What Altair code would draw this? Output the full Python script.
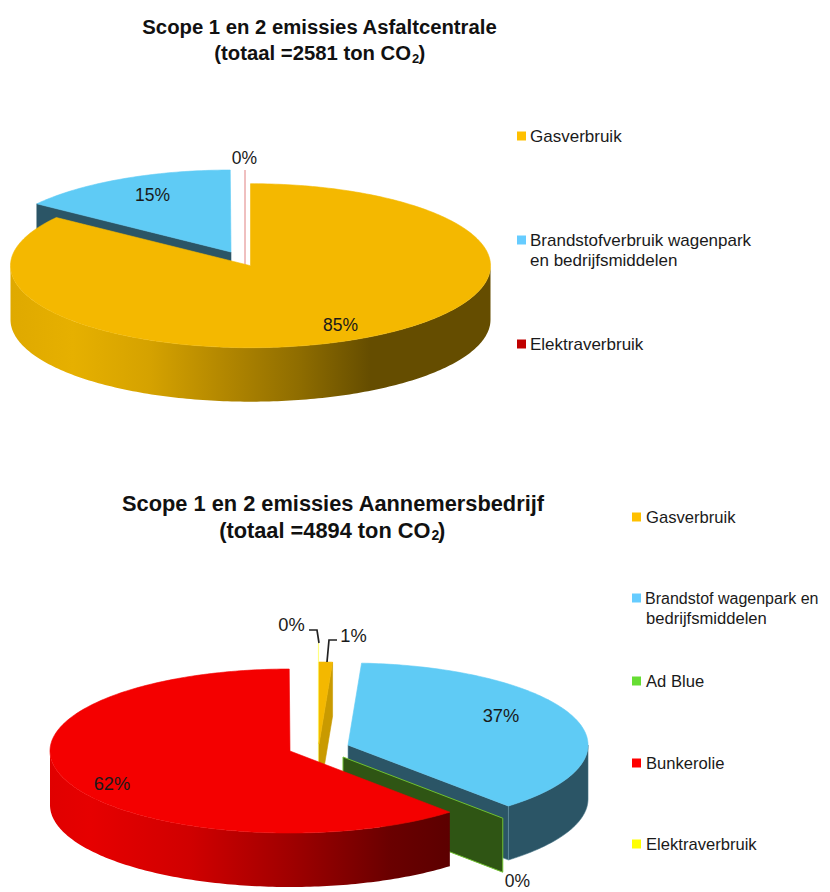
import numpy as np
import pandas as pd
import altair as alt

# ---- data (percent shares, clockwise from 12 o'clock)
top_labels = ["Gasverbruik", "Brandstofverbruik wagenpark", "en bedrijfsmiddelen", "Elektraverbruik"]
top_values = [85.0, 14.95, 0.05]
top_pct = ["85%", "15%", "0%"]

bot_labels = ["Gasverbruik", "Brandstof wagenpark en", "bedrijfsmiddelen", "Ad Blue", "Bunkerolie", "Elektraverbruik"]
bot_values = [0.9, 37.45, 0.05, 61.55, 0.05]
bot_pct = ["1%", "37%", "0%", "62%", "0%"]

RX, RY, DEPTH = 240.0, 82.0, 54.0

xs = alt.Scale(domain=[8, 822], nice=False, zero=False)
ys = alt.Scale(domain=[892, 8], nice=False, zero=False)


def bounds(values):
    c = np.concatenate([[0.0], np.cumsum(values)])
    return c / c[-1] * 360.0


def pt(c, a, dz=0.0):
    r = np.radians(a)
    return (c[0] + RX * np.sin(r), c[1] - RY * np.cos(r) + dz)


def arc(c, a0, a1, dz=0.0):
    n = max(2, int(abs(a1 - a0)) + 2)
    return [pt(c, a, dz) for a in np.linspace(a0, a1, n)]


def poly(points, fill, stroke=None, sw=0.6):
    df = pd.DataFrame(points, columns=["x", "y"])
    df["i"] = range(len(df))
    return alt.Chart(df).mark_line(
        interpolate="linear-closed", fill=fill, stroke=stroke or fill, strokeWidth=sw
    ).encode(
        x=alt.X("x:Q", scale=xs, axis=None),
        y=alt.Y("y:Q", scale=ys, axis=None),
        order=alt.Order("i:Q"),
    )


def sector(c, a0, a1, fill, stroke=None):
    return poly([c] + arc(c, a0, a1), fill, stroke)


def wall(c, a0, a1, fill, stroke=None):
    return poly(arc(c, a0, a1) + arc(c, a1, a0, DEPTH), fill, stroke)


def face(c, a, fill, stroke=None, sw=0.6):
    p = pt(c, a)
    q = pt(c, a, DEPTH)
    return poly([c, p, q, (c[0], c[1] + DEPTH)], fill, stroke, sw)


def path(points, color, sw):
    df = pd.DataFrame(points, columns=["x", "y"])
    df["i"] = range(len(df))
    return alt.Chart(df).mark_line(color=color, strokeWidth=sw).encode(
        x=alt.X("x:Q", scale=xs, axis=None),
        y=alt.Y("y:Q", scale=ys, axis=None),
        order=alt.Order("i:Q"),
    )


def text(s, x, y, size=17.5, bold=False, align="left", color="#1a1a1a"):
    return alt.Chart(pd.DataFrame({"t": [s]})).mark_text(
        font="Liberation Sans", fontSize=size, fontWeight="bold" if bold else "normal",
        align=align, baseline="middle", color=color,
    ).encode(text="t:N", x=alt.value(x - 8), y=alt.value(y - 8))


def swatch(x, y, color):
    return alt.Chart(pd.DataFrame({"t": [0]})).mark_rect(color=color).encode(
        x=alt.value(x - 8), x2=alt.value(x + 1), y=alt.value(y - 12.5), y2=alt.value(y - 3.5)
    )


def grad(stops):
    return alt.LinearGradient(
        gradient="linear", x1=0, x2=1, y1=0, y2=0,
        stops=[alt.GradientStop(offset=o, color=c) for o, c in stops],
    )


GOLD, BLUE, TEAL = "#F4B800", "#5FCBF5", "#2B5566"
gold_wall = grad([(0, "#DFA900"), (0.13, "#E6B000"), (0.29, "#D5A200"), (0.457, "#B08500"),
                  (0.6, "#8F6D00"), (0.75, "#654D00"), (1, "#654D00")])
red_wall = grad([(0, "#E00000"), (0.1, "#E60000"), (0.35, "#D00000"), (0.6, "#A00000"),
                 (0.85, "#6A0000"), (1, "#5C0000")])

# ---- upper pie
b = bounds(top_values)
c_gold = (250.5, 265.7)
c_blue = (231.0, 252.0)
c_el = (245.0, 252.0)
layers = [
    face(c_blue, b[1], TEAL),
    sector(c_blue, b[1], b[2], BLUE),
    path([(c_el[0], c_el[1] - RY), (c_el[0], c_el[1] + DEPTH)], "#E08080", 1),
    wall(c_gold, 90, 270, gold_wall, "#00000000"),
    sector(c_gold, b[0], b[1], GOLD),
]

# ---- lower pie
b2 = bounds(bot_values)
c_g = (319.0, 744.0)
c_b = (348.0, 745.0)
c_a = (343.0, 757.0)
c_r = (290.0, 751.0)
c_y = (318.5, 725.0)
layers += [
    wall(c_b, 90, b2[2], TEAL, "#3F6F82"),
    face(c_b, b2[2], TEAL, "#6A97A8"),
    sector(c_b, b2[1], b2[2], BLUE),
    face(c_a, b2[2] + 0.2, "#2F5514", "#70C030", 1),
    path([(c_y[0], c_y[1] - RY), (c_y[0], c_y[1] + DEPTH)], "#FFFF80", 1.2),
    face(c_g, b2[1], "#C99A00"),
    sector(c_g, b2[0], b2[1], GOLD),
    wall(c_r, b2[3], 270, red_wall, "#00000000"),
    sector(c_r, b2[3], b2[4], "#F40000"),
    path([(309, 630), (317, 630), (319, 643)], "#222222", 1.7),
    path([(337, 640), (329, 640), (327, 662)], "#222222", 1.7),
]

# ---- titles, value labels, legends
TS = 20.3
TS2 = 21.8
LS = 17.0
LS2 = 16.6
PS2 = 18.3
INK = "#111111"
layers += [
    text("Scope 1 en 2 emissies Asfaltcentrale", 319.5, 28, TS, True, "center", INK),
    text("(totaal =2581 ton CO", 411, 54, TS, True, "right", INK),
    text("2", 412, 59, 13, True, "left", INK),
    text(")", 418.5, 54, TS, True, "left", INK),
    text("Scope 1 en 2 emissies Aannemersbedrijf", 333, 504, TS2, True, "center", INK),
    text("(totaal =4894 ton CO", 430.5, 531, TS2, True, "right", INK),
    text("2", 431.5, 536, 14, True, "left", INK),
    text(")", 438, 531, TS2, True, "left", INK),
    text(top_pct[0], 340.5, 325.5, align="center"),
    text(top_pct[1], 152.5, 196, align="center"),
    text(top_pct[2], 244.5, 159, align="center"),
    text(bot_pct[0], 353.5, 637, PS2, align="center"),
    text(bot_pct[1], 501, 717, PS2, align="center"),
    text(bot_pct[2], 517.5, 882, 17.5, align="center"),
    text(bot_pct[3], 112, 785, PS2, align="center"),
    text(bot_pct[4], 291.5, 626, PS2, align="center"),
    swatch(517, 136, "#FFC000"),
    swatch(517, 240, "#66CCFF"),
    swatch(517, 344, "#C00000"),
    text(top_labels[0], 530, 136.5, LS),
    text(top_labels[1], 530, 240.5, LS),
    text(top_labels[2], 530, 260.5, LS),
    text(top_labels[3], 530, 344.5, LS),
    swatch(632, 517, "#FFC000"),
    swatch(632, 598, "#66CCFF"),
    swatch(632, 681, "#66DD33"),
    swatch(632, 763, "#FF0000"),
    swatch(632, 844, "#FFFF00"),
    text(bot_labels[0], 646, 517.5, LS2),
    text(bot_labels[1], 645, 598.5, 16.0),
    text(bot_labels[2], 646, 618.5, LS2),
    text(bot_labels[3], 646, 681.5, LS2),
    text(bot_labels[4], 646, 763.5, LS2),
    text(bot_labels[5], 646, 844.5, LS2),
]

chart = alt.layer(*layers).properties(
    width=814, height=884, padding=0, autosize=alt.AutoSizeParams(type="none")
).configure_view(stroke=None)

chart.save("out.html", embed_options={"renderer": "svg", "actions": False})
